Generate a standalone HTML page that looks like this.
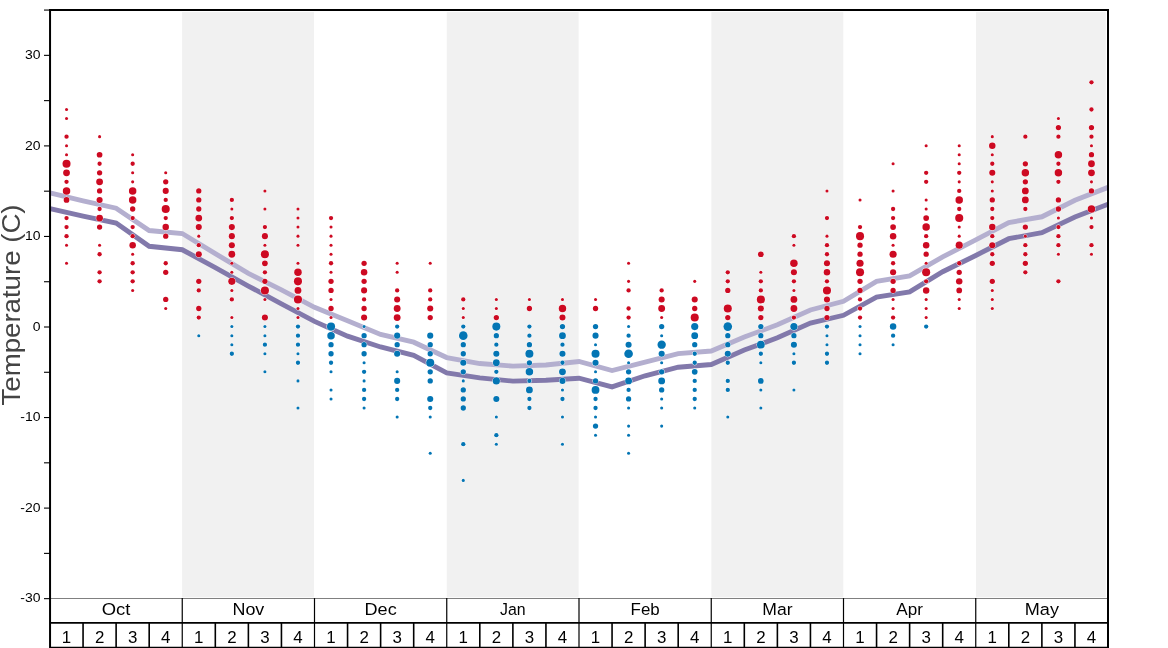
<!DOCTYPE html>
<html><head><meta charset="utf-8"><title>Temperature</title>
<style>
html,body{margin:0;padding:0;background:#fff;}
body{width:1168px;height:648px;overflow:hidden;font-family:"Liberation Sans",sans-serif;}
svg{display:block;}
text{font-family:"Liberation Sans",sans-serif;}
</style></head><body>
<svg width="1168" height="648" viewBox="0 0 1168 648">
<rect x="0" y="0" width="1168" height="648" fill="#ffffff"/>

<rect x="182.10" y="12.1" width="131.90" height="585.20" fill="#f1f1f1"/>
<rect x="446.74" y="12.1" width="131.90" height="585.20" fill="#f1f1f1"/>
<rect x="711.38" y="12.1" width="131.90" height="585.20" fill="#f1f1f1"/>
<rect x="976.00" y="12.1" width="129.80" height="585.20" fill="#f1f1f1"/>
<g fill="none" stroke-width="4.9" stroke-linejoin="miter" stroke-linecap="butt">
<path d="M50.00,192.97 L83.06,200.84 L116.12,208.18 L149.19,230.55 L182.25,233.53 L215.31,253.64 L248.38,273.38 L281.44,289.86 L314.50,307.33 L347.56,320.73 L380.62,334.41 L413.69,342.19 L446.75,357.59 L479.81,363.56 L512.88,366.10 L545.94,365.01 L579.00,361.48 L612.06,370.54 L645.12,362.11 L678.19,353.60 L711.25,350.98 L744.31,337.03 L777.38,324.81 L810.44,309.96 L843.50,301.26 L876.56,281.34 L909.62,275.82 L942.69,256.90 L975.75,239.87 L1008.81,222.49 L1041.88,216.78 L1074.94,200.30 L1108.00,187.35" stroke="#b4afcf"/>
<path d="M50.00,208.72 L83.06,216.06 L116.12,223.03 L149.19,246.30 L182.25,249.74 L215.31,267.58 L248.38,286.05 L281.44,303.80 L314.50,321.37 L347.56,336.13 L380.62,346.99 L413.69,355.32 L446.75,372.89 L479.81,377.87 L512.88,381.13 L545.94,380.22 L579.00,378.23 L612.06,386.93 L645.12,375.79 L678.19,367.19 L711.25,364.47 L744.31,350.07 L777.38,337.85 L810.44,323.00 L843.50,315.30 L876.56,297.10 L909.62,291.85 L942.69,271.75 L975.75,255.45 L1008.81,238.69 L1041.88,232.63 L1074.94,216.96 L1108.00,204.20" stroke="#8279ab"/>
</g>
<g stroke="#ffffff" stroke-width="1.0" paint-order="stroke">
<circle cx="66.53" cy="109.50" r="1.52" fill="#cd0a22"/>
<circle cx="66.53" cy="118.54" r="1.52" fill="#cd0a22"/>
<circle cx="66.53" cy="136.63" r="2.16" fill="#cd0a22"/>
<circle cx="66.53" cy="145.68" r="1.52" fill="#cd0a22"/>
<circle cx="66.53" cy="154.73" r="1.52" fill="#cd0a22"/>
<circle cx="66.53" cy="163.77" r="4.03" fill="#cd0a22"/>
<circle cx="66.53" cy="172.82" r="3.41" fill="#cd0a22"/>
<circle cx="66.53" cy="181.86" r="2.16" fill="#cd0a22"/>
<circle cx="66.53" cy="190.91" r="3.74" fill="#cd0a22"/>
<circle cx="66.53" cy="199.96" r="2.85" fill="#cd0a22"/>
<circle cx="66.53" cy="218.05" r="2.16" fill="#cd0a22"/>
<circle cx="66.53" cy="227.09" r="2.16" fill="#cd0a22"/>
<circle cx="66.53" cy="236.14" r="2.16" fill="#cd0a22"/>
<circle cx="66.53" cy="245.19" r="1.52" fill="#cd0a22"/>
<circle cx="66.53" cy="263.28" r="1.52" fill="#cd0a22"/>
<circle cx="99.59" cy="136.63" r="1.52" fill="#cd0a22"/>
<circle cx="99.59" cy="154.73" r="2.85" fill="#cd0a22"/>
<circle cx="99.59" cy="163.77" r="2.16" fill="#cd0a22"/>
<circle cx="99.59" cy="172.82" r="2.64" fill="#cd0a22"/>
<circle cx="99.59" cy="181.86" r="3.41" fill="#cd0a22"/>
<circle cx="99.59" cy="190.91" r="2.64" fill="#cd0a22"/>
<circle cx="99.59" cy="199.96" r="3.05" fill="#cd0a22"/>
<circle cx="99.59" cy="209.00" r="2.16" fill="#cd0a22"/>
<circle cx="99.59" cy="218.05" r="3.41" fill="#cd0a22"/>
<circle cx="99.59" cy="227.09" r="2.64" fill="#cd0a22"/>
<circle cx="99.59" cy="245.19" r="1.52" fill="#cd0a22"/>
<circle cx="99.59" cy="254.23" r="2.16" fill="#cd0a22"/>
<circle cx="99.59" cy="272.32" r="2.16" fill="#cd0a22"/>
<circle cx="99.59" cy="281.37" r="2.16" fill="#cd0a22"/>
<circle cx="132.66" cy="154.73" r="1.52" fill="#cd0a22"/>
<circle cx="132.66" cy="163.77" r="2.16" fill="#cd0a22"/>
<circle cx="132.66" cy="172.82" r="1.52" fill="#cd0a22"/>
<circle cx="132.66" cy="181.86" r="1.52" fill="#cd0a22"/>
<circle cx="132.66" cy="190.91" r="3.74" fill="#cd0a22"/>
<circle cx="132.66" cy="199.96" r="3.74" fill="#cd0a22"/>
<circle cx="132.66" cy="209.00" r="2.64" fill="#cd0a22"/>
<circle cx="132.66" cy="218.05" r="2.16" fill="#cd0a22"/>
<circle cx="132.66" cy="227.09" r="2.16" fill="#cd0a22"/>
<circle cx="132.66" cy="236.14" r="2.16" fill="#cd0a22"/>
<circle cx="132.66" cy="245.19" r="3.24" fill="#cd0a22"/>
<circle cx="132.66" cy="254.23" r="1.52" fill="#cd0a22"/>
<circle cx="132.66" cy="263.28" r="2.16" fill="#cd0a22"/>
<circle cx="132.66" cy="272.32" r="2.16" fill="#cd0a22"/>
<circle cx="132.66" cy="281.37" r="2.16" fill="#cd0a22"/>
<circle cx="132.66" cy="290.42" r="1.52" fill="#cd0a22"/>
<circle cx="165.72" cy="172.82" r="1.52" fill="#cd0a22"/>
<circle cx="165.72" cy="181.86" r="2.64" fill="#cd0a22"/>
<circle cx="165.72" cy="190.91" r="3.05" fill="#cd0a22"/>
<circle cx="165.72" cy="199.96" r="2.16" fill="#cd0a22"/>
<circle cx="165.72" cy="209.00" r="4.03" fill="#cd0a22"/>
<circle cx="165.72" cy="218.05" r="2.16" fill="#cd0a22"/>
<circle cx="165.72" cy="227.09" r="3.24" fill="#cd0a22"/>
<circle cx="165.72" cy="236.14" r="2.64" fill="#cd0a22"/>
<circle cx="165.72" cy="263.28" r="2.16" fill="#cd0a22"/>
<circle cx="165.72" cy="272.32" r="2.64" fill="#cd0a22"/>
<circle cx="165.72" cy="299.46" r="2.64" fill="#cd0a22"/>
<circle cx="165.72" cy="308.51" r="1.52" fill="#cd0a22"/>
<circle cx="198.78" cy="190.91" r="2.64" fill="#cd0a22"/>
<circle cx="198.78" cy="199.96" r="2.64" fill="#cd0a22"/>
<circle cx="198.78" cy="209.00" r="2.64" fill="#cd0a22"/>
<circle cx="198.78" cy="218.05" r="3.41" fill="#cd0a22"/>
<circle cx="198.78" cy="227.09" r="3.05" fill="#cd0a22"/>
<circle cx="198.78" cy="236.14" r="1.52" fill="#cd0a22"/>
<circle cx="198.78" cy="245.19" r="2.16" fill="#cd0a22"/>
<circle cx="198.78" cy="254.23" r="3.05" fill="#cd0a22"/>
<circle cx="198.78" cy="281.37" r="2.64" fill="#cd0a22"/>
<circle cx="198.78" cy="290.42" r="2.16" fill="#cd0a22"/>
<circle cx="198.78" cy="308.51" r="2.64" fill="#cd0a22"/>
<circle cx="198.78" cy="317.55" r="2.16" fill="#cd0a22"/>
<circle cx="198.78" cy="335.65" r="1.52" fill="#0375b4"/>
<circle cx="231.84" cy="199.96" r="2.16" fill="#cd0a22"/>
<circle cx="231.84" cy="209.00" r="1.52" fill="#cd0a22"/>
<circle cx="231.84" cy="218.05" r="2.16" fill="#cd0a22"/>
<circle cx="231.84" cy="227.09" r="3.05" fill="#cd0a22"/>
<circle cx="231.84" cy="236.14" r="3.05" fill="#cd0a22"/>
<circle cx="231.84" cy="245.19" r="3.05" fill="#cd0a22"/>
<circle cx="231.84" cy="254.23" r="3.41" fill="#cd0a22"/>
<circle cx="231.84" cy="263.28" r="1.52" fill="#cd0a22"/>
<circle cx="231.84" cy="272.32" r="1.52" fill="#cd0a22"/>
<circle cx="231.84" cy="281.37" r="3.58" fill="#cd0a22"/>
<circle cx="231.84" cy="290.42" r="1.52" fill="#cd0a22"/>
<circle cx="231.84" cy="299.46" r="2.16" fill="#cd0a22"/>
<circle cx="231.84" cy="317.55" r="1.52" fill="#cd0a22"/>
<circle cx="231.84" cy="326.60" r="1.52" fill="#0375b4"/>
<circle cx="231.84" cy="335.65" r="1.52" fill="#0375b4"/>
<circle cx="231.84" cy="344.69" r="1.52" fill="#0375b4"/>
<circle cx="231.84" cy="353.74" r="2.16" fill="#0375b4"/>
<circle cx="264.91" cy="190.91" r="1.52" fill="#cd0a22"/>
<circle cx="264.91" cy="209.00" r="1.52" fill="#cd0a22"/>
<circle cx="264.91" cy="227.09" r="2.16" fill="#cd0a22"/>
<circle cx="264.91" cy="236.14" r="3.05" fill="#cd0a22"/>
<circle cx="264.91" cy="245.19" r="1.52" fill="#cd0a22"/>
<circle cx="264.91" cy="254.23" r="4.03" fill="#cd0a22"/>
<circle cx="264.91" cy="263.28" r="2.85" fill="#cd0a22"/>
<circle cx="264.91" cy="272.32" r="2.16" fill="#cd0a22"/>
<circle cx="264.91" cy="281.37" r="2.64" fill="#cd0a22"/>
<circle cx="264.91" cy="290.42" r="4.03" fill="#cd0a22"/>
<circle cx="264.91" cy="299.46" r="1.52" fill="#cd0a22"/>
<circle cx="264.91" cy="317.55" r="3.05" fill="#cd0a22"/>
<circle cx="264.91" cy="326.60" r="1.52" fill="#0375b4"/>
<circle cx="264.91" cy="335.65" r="1.52" fill="#0375b4"/>
<circle cx="264.91" cy="344.69" r="2.16" fill="#0375b4"/>
<circle cx="264.91" cy="353.74" r="1.52" fill="#0375b4"/>
<circle cx="264.91" cy="371.83" r="1.52" fill="#0375b4"/>
<circle cx="297.97" cy="209.00" r="1.52" fill="#cd0a22"/>
<circle cx="297.97" cy="218.05" r="1.52" fill="#cd0a22"/>
<circle cx="297.97" cy="227.09" r="1.52" fill="#cd0a22"/>
<circle cx="297.97" cy="236.14" r="1.52" fill="#cd0a22"/>
<circle cx="297.97" cy="245.19" r="1.52" fill="#cd0a22"/>
<circle cx="297.97" cy="263.28" r="1.52" fill="#cd0a22"/>
<circle cx="297.97" cy="272.32" r="3.74" fill="#cd0a22"/>
<circle cx="297.97" cy="281.37" r="4.03" fill="#cd0a22"/>
<circle cx="297.97" cy="290.42" r="3.41" fill="#cd0a22"/>
<circle cx="297.97" cy="299.46" r="4.03" fill="#cd0a22"/>
<circle cx="297.97" cy="308.51" r="1.52" fill="#cd0a22"/>
<circle cx="297.97" cy="317.55" r="1.52" fill="#cd0a22"/>
<circle cx="297.97" cy="326.60" r="2.16" fill="#0375b4"/>
<circle cx="297.97" cy="335.65" r="2.16" fill="#0375b4"/>
<circle cx="297.97" cy="344.69" r="2.16" fill="#0375b4"/>
<circle cx="297.97" cy="353.74" r="1.52" fill="#0375b4"/>
<circle cx="297.97" cy="362.78" r="2.16" fill="#0375b4"/>
<circle cx="297.97" cy="380.88" r="1.52" fill="#0375b4"/>
<circle cx="297.97" cy="408.01" r="1.52" fill="#0375b4"/>
<circle cx="331.03" cy="218.05" r="2.16" fill="#cd0a22"/>
<circle cx="331.03" cy="227.09" r="1.52" fill="#cd0a22"/>
<circle cx="331.03" cy="236.14" r="1.52" fill="#cd0a22"/>
<circle cx="331.03" cy="245.19" r="1.52" fill="#cd0a22"/>
<circle cx="331.03" cy="254.23" r="1.52" fill="#cd0a22"/>
<circle cx="331.03" cy="263.28" r="2.16" fill="#cd0a22"/>
<circle cx="331.03" cy="272.32" r="1.52" fill="#cd0a22"/>
<circle cx="331.03" cy="281.37" r="2.64" fill="#cd0a22"/>
<circle cx="331.03" cy="290.42" r="2.64" fill="#cd0a22"/>
<circle cx="331.03" cy="299.46" r="1.52" fill="#cd0a22"/>
<circle cx="331.03" cy="308.51" r="2.64" fill="#cd0a22"/>
<circle cx="331.03" cy="317.55" r="1.52" fill="#cd0a22"/>
<circle cx="331.03" cy="326.60" r="4.03" fill="#0375b4"/>
<circle cx="331.03" cy="335.65" r="3.74" fill="#0375b4"/>
<circle cx="331.03" cy="344.69" r="2.64" fill="#0375b4"/>
<circle cx="331.03" cy="353.74" r="2.64" fill="#0375b4"/>
<circle cx="331.03" cy="362.78" r="2.16" fill="#0375b4"/>
<circle cx="331.03" cy="371.83" r="1.52" fill="#0375b4"/>
<circle cx="331.03" cy="389.92" r="1.52" fill="#0375b4"/>
<circle cx="331.03" cy="398.97" r="1.52" fill="#0375b4"/>
<circle cx="364.09" cy="263.28" r="2.64" fill="#cd0a22"/>
<circle cx="364.09" cy="272.32" r="3.24" fill="#cd0a22"/>
<circle cx="364.09" cy="281.37" r="2.64" fill="#cd0a22"/>
<circle cx="364.09" cy="290.42" r="3.05" fill="#cd0a22"/>
<circle cx="364.09" cy="299.46" r="2.16" fill="#cd0a22"/>
<circle cx="364.09" cy="308.51" r="2.64" fill="#cd0a22"/>
<circle cx="364.09" cy="317.55" r="3.05" fill="#cd0a22"/>
<circle cx="364.09" cy="326.60" r="1.52" fill="#0375b4"/>
<circle cx="364.09" cy="335.65" r="2.64" fill="#0375b4"/>
<circle cx="364.09" cy="344.69" r="2.64" fill="#0375b4"/>
<circle cx="364.09" cy="353.74" r="2.64" fill="#0375b4"/>
<circle cx="364.09" cy="362.78" r="1.52" fill="#0375b4"/>
<circle cx="364.09" cy="371.83" r="2.16" fill="#0375b4"/>
<circle cx="364.09" cy="380.88" r="1.52" fill="#0375b4"/>
<circle cx="364.09" cy="389.92" r="2.16" fill="#0375b4"/>
<circle cx="364.09" cy="398.97" r="2.16" fill="#0375b4"/>
<circle cx="364.09" cy="408.01" r="1.52" fill="#0375b4"/>
<circle cx="397.16" cy="263.28" r="1.52" fill="#cd0a22"/>
<circle cx="397.16" cy="272.32" r="1.52" fill="#cd0a22"/>
<circle cx="397.16" cy="290.42" r="2.16" fill="#cd0a22"/>
<circle cx="397.16" cy="299.46" r="3.05" fill="#cd0a22"/>
<circle cx="397.16" cy="308.51" r="3.41" fill="#cd0a22"/>
<circle cx="397.16" cy="317.55" r="3.41" fill="#cd0a22"/>
<circle cx="397.16" cy="326.60" r="2.16" fill="#0375b4"/>
<circle cx="397.16" cy="335.65" r="3.05" fill="#0375b4"/>
<circle cx="397.16" cy="344.69" r="2.64" fill="#0375b4"/>
<circle cx="397.16" cy="353.74" r="3.05" fill="#0375b4"/>
<circle cx="397.16" cy="371.83" r="1.52" fill="#0375b4"/>
<circle cx="397.16" cy="380.88" r="3.05" fill="#0375b4"/>
<circle cx="397.16" cy="389.92" r="2.16" fill="#0375b4"/>
<circle cx="397.16" cy="398.97" r="2.16" fill="#0375b4"/>
<circle cx="397.16" cy="417.06" r="1.52" fill="#0375b4"/>
<circle cx="430.22" cy="263.28" r="1.52" fill="#cd0a22"/>
<circle cx="430.22" cy="290.42" r="2.16" fill="#cd0a22"/>
<circle cx="430.22" cy="299.46" r="2.16" fill="#cd0a22"/>
<circle cx="430.22" cy="308.51" r="3.05" fill="#cd0a22"/>
<circle cx="430.22" cy="317.55" r="2.64" fill="#cd0a22"/>
<circle cx="430.22" cy="335.65" r="3.05" fill="#0375b4"/>
<circle cx="430.22" cy="344.69" r="2.64" fill="#0375b4"/>
<circle cx="430.22" cy="353.74" r="2.64" fill="#0375b4"/>
<circle cx="430.22" cy="362.78" r="4.03" fill="#0375b4"/>
<circle cx="430.22" cy="371.83" r="2.64" fill="#0375b4"/>
<circle cx="430.22" cy="380.88" r="2.64" fill="#0375b4"/>
<circle cx="430.22" cy="398.97" r="3.05" fill="#0375b4"/>
<circle cx="430.22" cy="408.01" r="2.16" fill="#0375b4"/>
<circle cx="430.22" cy="417.06" r="1.52" fill="#0375b4"/>
<circle cx="430.22" cy="453.24" r="1.52" fill="#0375b4"/>
<circle cx="463.28" cy="299.46" r="2.16" fill="#cd0a22"/>
<circle cx="463.28" cy="308.51" r="1.52" fill="#cd0a22"/>
<circle cx="463.28" cy="317.55" r="1.52" fill="#cd0a22"/>
<circle cx="463.28" cy="326.60" r="2.16" fill="#0375b4"/>
<circle cx="463.28" cy="335.65" r="4.31" fill="#0375b4"/>
<circle cx="463.28" cy="344.69" r="2.64" fill="#0375b4"/>
<circle cx="463.28" cy="353.74" r="2.64" fill="#0375b4"/>
<circle cx="463.28" cy="362.78" r="3.05" fill="#0375b4"/>
<circle cx="463.28" cy="371.83" r="2.64" fill="#0375b4"/>
<circle cx="463.28" cy="380.88" r="1.52" fill="#0375b4"/>
<circle cx="463.28" cy="389.92" r="2.64" fill="#0375b4"/>
<circle cx="463.28" cy="398.97" r="2.64" fill="#0375b4"/>
<circle cx="463.28" cy="408.01" r="2.64" fill="#0375b4"/>
<circle cx="463.28" cy="444.20" r="2.16" fill="#0375b4"/>
<circle cx="463.28" cy="480.38" r="1.52" fill="#0375b4"/>
<circle cx="496.34" cy="299.46" r="1.52" fill="#cd0a22"/>
<circle cx="496.34" cy="308.51" r="1.52" fill="#cd0a22"/>
<circle cx="496.34" cy="317.55" r="2.64" fill="#cd0a22"/>
<circle cx="496.34" cy="326.60" r="4.03" fill="#0375b4"/>
<circle cx="496.34" cy="335.65" r="2.64" fill="#0375b4"/>
<circle cx="496.34" cy="344.69" r="2.16" fill="#0375b4"/>
<circle cx="496.34" cy="353.74" r="3.05" fill="#0375b4"/>
<circle cx="496.34" cy="362.78" r="3.41" fill="#0375b4"/>
<circle cx="496.34" cy="371.83" r="2.16" fill="#0375b4"/>
<circle cx="496.34" cy="380.88" r="3.58" fill="#0375b4"/>
<circle cx="496.34" cy="398.97" r="3.05" fill="#0375b4"/>
<circle cx="496.34" cy="417.06" r="1.52" fill="#0375b4"/>
<circle cx="496.34" cy="435.15" r="2.16" fill="#0375b4"/>
<circle cx="496.34" cy="444.20" r="1.52" fill="#0375b4"/>
<circle cx="529.41" cy="299.46" r="1.52" fill="#cd0a22"/>
<circle cx="529.41" cy="308.51" r="2.64" fill="#cd0a22"/>
<circle cx="529.41" cy="326.60" r="2.16" fill="#0375b4"/>
<circle cx="529.41" cy="335.65" r="2.16" fill="#0375b4"/>
<circle cx="529.41" cy="344.69" r="2.64" fill="#0375b4"/>
<circle cx="529.41" cy="353.74" r="4.03" fill="#0375b4"/>
<circle cx="529.41" cy="362.78" r="2.64" fill="#0375b4"/>
<circle cx="529.41" cy="371.83" r="3.74" fill="#0375b4"/>
<circle cx="529.41" cy="380.88" r="2.16" fill="#0375b4"/>
<circle cx="529.41" cy="389.92" r="3.41" fill="#0375b4"/>
<circle cx="529.41" cy="398.97" r="2.16" fill="#0375b4"/>
<circle cx="529.41" cy="408.01" r="2.16" fill="#0375b4"/>
<circle cx="562.47" cy="299.46" r="1.52" fill="#cd0a22"/>
<circle cx="562.47" cy="308.51" r="3.74" fill="#cd0a22"/>
<circle cx="562.47" cy="317.55" r="3.05" fill="#cd0a22"/>
<circle cx="562.47" cy="326.60" r="2.64" fill="#0375b4"/>
<circle cx="562.47" cy="335.65" r="3.41" fill="#0375b4"/>
<circle cx="562.47" cy="344.69" r="2.16" fill="#0375b4"/>
<circle cx="562.47" cy="353.74" r="3.05" fill="#0375b4"/>
<circle cx="562.47" cy="362.78" r="2.16" fill="#0375b4"/>
<circle cx="562.47" cy="371.83" r="3.41" fill="#0375b4"/>
<circle cx="562.47" cy="380.88" r="3.05" fill="#0375b4"/>
<circle cx="562.47" cy="389.92" r="1.52" fill="#0375b4"/>
<circle cx="562.47" cy="398.97" r="2.16" fill="#0375b4"/>
<circle cx="562.47" cy="417.06" r="1.52" fill="#0375b4"/>
<circle cx="562.47" cy="444.20" r="1.52" fill="#0375b4"/>
<circle cx="595.53" cy="299.46" r="1.52" fill="#cd0a22"/>
<circle cx="595.53" cy="308.51" r="2.64" fill="#cd0a22"/>
<circle cx="595.53" cy="326.60" r="2.64" fill="#0375b4"/>
<circle cx="595.53" cy="335.65" r="3.05" fill="#0375b4"/>
<circle cx="595.53" cy="344.69" r="1.52" fill="#0375b4"/>
<circle cx="595.53" cy="353.74" r="4.03" fill="#0375b4"/>
<circle cx="595.53" cy="362.78" r="3.05" fill="#0375b4"/>
<circle cx="595.53" cy="371.83" r="1.52" fill="#0375b4"/>
<circle cx="595.53" cy="380.88" r="2.64" fill="#0375b4"/>
<circle cx="595.53" cy="389.92" r="3.89" fill="#0375b4"/>
<circle cx="595.53" cy="398.97" r="2.16" fill="#0375b4"/>
<circle cx="595.53" cy="408.01" r="2.16" fill="#0375b4"/>
<circle cx="595.53" cy="417.06" r="1.52" fill="#0375b4"/>
<circle cx="595.53" cy="426.11" r="2.64" fill="#0375b4"/>
<circle cx="595.53" cy="435.15" r="1.52" fill="#0375b4"/>
<circle cx="628.59" cy="263.28" r="1.52" fill="#cd0a22"/>
<circle cx="628.59" cy="281.37" r="1.52" fill="#cd0a22"/>
<circle cx="628.59" cy="290.42" r="2.16" fill="#cd0a22"/>
<circle cx="628.59" cy="308.51" r="2.16" fill="#cd0a22"/>
<circle cx="628.59" cy="317.55" r="2.16" fill="#cd0a22"/>
<circle cx="628.59" cy="326.60" r="1.52" fill="#0375b4"/>
<circle cx="628.59" cy="335.65" r="2.16" fill="#0375b4"/>
<circle cx="628.59" cy="344.69" r="3.05" fill="#0375b4"/>
<circle cx="628.59" cy="353.74" r="4.31" fill="#0375b4"/>
<circle cx="628.59" cy="362.78" r="1.52" fill="#0375b4"/>
<circle cx="628.59" cy="371.83" r="2.64" fill="#0375b4"/>
<circle cx="628.59" cy="380.88" r="3.41" fill="#0375b4"/>
<circle cx="628.59" cy="389.92" r="2.16" fill="#0375b4"/>
<circle cx="628.59" cy="398.97" r="2.64" fill="#0375b4"/>
<circle cx="628.59" cy="408.01" r="1.52" fill="#0375b4"/>
<circle cx="628.59" cy="426.11" r="1.52" fill="#0375b4"/>
<circle cx="628.59" cy="435.15" r="1.52" fill="#0375b4"/>
<circle cx="628.59" cy="453.24" r="1.52" fill="#0375b4"/>
<circle cx="661.66" cy="290.42" r="2.16" fill="#cd0a22"/>
<circle cx="661.66" cy="299.46" r="3.05" fill="#cd0a22"/>
<circle cx="661.66" cy="308.51" r="3.41" fill="#cd0a22"/>
<circle cx="661.66" cy="317.55" r="1.52" fill="#cd0a22"/>
<circle cx="661.66" cy="326.60" r="2.64" fill="#0375b4"/>
<circle cx="661.66" cy="335.65" r="1.52" fill="#0375b4"/>
<circle cx="661.66" cy="344.69" r="4.18" fill="#0375b4"/>
<circle cx="661.66" cy="353.74" r="3.05" fill="#0375b4"/>
<circle cx="661.66" cy="362.78" r="1.52" fill="#0375b4"/>
<circle cx="661.66" cy="371.83" r="2.64" fill="#0375b4"/>
<circle cx="661.66" cy="380.88" r="3.41" fill="#0375b4"/>
<circle cx="661.66" cy="389.92" r="2.64" fill="#0375b4"/>
<circle cx="661.66" cy="398.97" r="1.52" fill="#0375b4"/>
<circle cx="661.66" cy="408.01" r="1.52" fill="#0375b4"/>
<circle cx="661.66" cy="426.11" r="1.52" fill="#0375b4"/>
<circle cx="694.72" cy="281.37" r="1.52" fill="#cd0a22"/>
<circle cx="694.72" cy="299.46" r="3.05" fill="#cd0a22"/>
<circle cx="694.72" cy="308.51" r="2.64" fill="#cd0a22"/>
<circle cx="694.72" cy="317.55" r="4.03" fill="#cd0a22"/>
<circle cx="694.72" cy="326.60" r="3.58" fill="#0375b4"/>
<circle cx="694.72" cy="335.65" r="3.41" fill="#0375b4"/>
<circle cx="694.72" cy="344.69" r="2.64" fill="#0375b4"/>
<circle cx="694.72" cy="353.74" r="2.16" fill="#0375b4"/>
<circle cx="694.72" cy="362.78" r="2.16" fill="#0375b4"/>
<circle cx="694.72" cy="371.83" r="2.85" fill="#0375b4"/>
<circle cx="694.72" cy="380.88" r="2.16" fill="#0375b4"/>
<circle cx="694.72" cy="389.92" r="2.16" fill="#0375b4"/>
<circle cx="694.72" cy="398.97" r="2.16" fill="#0375b4"/>
<circle cx="694.72" cy="408.01" r="1.52" fill="#0375b4"/>
<circle cx="727.78" cy="272.32" r="2.16" fill="#cd0a22"/>
<circle cx="727.78" cy="281.37" r="2.16" fill="#cd0a22"/>
<circle cx="727.78" cy="290.42" r="2.64" fill="#cd0a22"/>
<circle cx="727.78" cy="308.51" r="4.03" fill="#cd0a22"/>
<circle cx="727.78" cy="317.55" r="2.64" fill="#cd0a22"/>
<circle cx="727.78" cy="326.60" r="4.31" fill="#0375b4"/>
<circle cx="727.78" cy="335.65" r="2.64" fill="#0375b4"/>
<circle cx="727.78" cy="344.69" r="2.64" fill="#0375b4"/>
<circle cx="727.78" cy="353.74" r="3.05" fill="#0375b4"/>
<circle cx="727.78" cy="362.78" r="2.16" fill="#0375b4"/>
<circle cx="727.78" cy="380.88" r="2.16" fill="#0375b4"/>
<circle cx="727.78" cy="389.92" r="2.16" fill="#0375b4"/>
<circle cx="727.78" cy="417.06" r="1.52" fill="#0375b4"/>
<circle cx="760.84" cy="254.23" r="2.85" fill="#cd0a22"/>
<circle cx="760.84" cy="272.32" r="1.52" fill="#cd0a22"/>
<circle cx="760.84" cy="281.37" r="2.16" fill="#cd0a22"/>
<circle cx="760.84" cy="290.42" r="2.16" fill="#cd0a22"/>
<circle cx="760.84" cy="299.46" r="4.03" fill="#cd0a22"/>
<circle cx="760.84" cy="308.51" r="3.05" fill="#cd0a22"/>
<circle cx="760.84" cy="317.55" r="2.64" fill="#cd0a22"/>
<circle cx="760.84" cy="326.60" r="2.64" fill="#0375b4"/>
<circle cx="760.84" cy="335.65" r="2.64" fill="#0375b4"/>
<circle cx="760.84" cy="344.69" r="3.89" fill="#0375b4"/>
<circle cx="760.84" cy="353.74" r="2.16" fill="#0375b4"/>
<circle cx="760.84" cy="362.78" r="1.52" fill="#0375b4"/>
<circle cx="760.84" cy="380.88" r="2.85" fill="#0375b4"/>
<circle cx="760.84" cy="389.92" r="1.52" fill="#0375b4"/>
<circle cx="760.84" cy="408.01" r="1.52" fill="#0375b4"/>
<circle cx="793.91" cy="236.14" r="2.16" fill="#cd0a22"/>
<circle cx="793.91" cy="245.19" r="1.52" fill="#cd0a22"/>
<circle cx="793.91" cy="263.28" r="3.74" fill="#cd0a22"/>
<circle cx="793.91" cy="272.32" r="3.05" fill="#cd0a22"/>
<circle cx="793.91" cy="281.37" r="2.16" fill="#cd0a22"/>
<circle cx="793.91" cy="290.42" r="1.52" fill="#cd0a22"/>
<circle cx="793.91" cy="299.46" r="3.41" fill="#cd0a22"/>
<circle cx="793.91" cy="308.51" r="3.41" fill="#cd0a22"/>
<circle cx="793.91" cy="317.55" r="2.16" fill="#cd0a22"/>
<circle cx="793.91" cy="326.60" r="3.58" fill="#0375b4"/>
<circle cx="793.91" cy="335.65" r="2.64" fill="#0375b4"/>
<circle cx="793.91" cy="344.69" r="3.05" fill="#0375b4"/>
<circle cx="793.91" cy="353.74" r="1.52" fill="#0375b4"/>
<circle cx="793.91" cy="362.78" r="2.16" fill="#0375b4"/>
<circle cx="793.91" cy="389.92" r="1.52" fill="#0375b4"/>
<circle cx="826.97" cy="190.91" r="1.52" fill="#cd0a22"/>
<circle cx="826.97" cy="218.05" r="2.16" fill="#cd0a22"/>
<circle cx="826.97" cy="236.14" r="1.52" fill="#cd0a22"/>
<circle cx="826.97" cy="245.19" r="2.16" fill="#cd0a22"/>
<circle cx="826.97" cy="254.23" r="2.16" fill="#cd0a22"/>
<circle cx="826.97" cy="263.28" r="3.05" fill="#cd0a22"/>
<circle cx="826.97" cy="272.32" r="3.24" fill="#cd0a22"/>
<circle cx="826.97" cy="281.37" r="2.16" fill="#cd0a22"/>
<circle cx="826.97" cy="290.42" r="4.03" fill="#cd0a22"/>
<circle cx="826.97" cy="299.46" r="3.05" fill="#cd0a22"/>
<circle cx="826.97" cy="308.51" r="2.64" fill="#cd0a22"/>
<circle cx="826.97" cy="317.55" r="2.64" fill="#cd0a22"/>
<circle cx="826.97" cy="326.60" r="2.16" fill="#0375b4"/>
<circle cx="826.97" cy="335.65" r="1.52" fill="#0375b4"/>
<circle cx="826.97" cy="344.69" r="1.52" fill="#0375b4"/>
<circle cx="826.97" cy="353.74" r="2.16" fill="#0375b4"/>
<circle cx="826.97" cy="362.78" r="2.16" fill="#0375b4"/>
<circle cx="860.03" cy="199.96" r="1.52" fill="#cd0a22"/>
<circle cx="860.03" cy="227.09" r="2.16" fill="#cd0a22"/>
<circle cx="860.03" cy="236.14" r="4.03" fill="#cd0a22"/>
<circle cx="860.03" cy="245.19" r="2.64" fill="#cd0a22"/>
<circle cx="860.03" cy="254.23" r="2.64" fill="#cd0a22"/>
<circle cx="860.03" cy="263.28" r="3.58" fill="#cd0a22"/>
<circle cx="860.03" cy="272.32" r="4.03" fill="#cd0a22"/>
<circle cx="860.03" cy="281.37" r="2.64" fill="#cd0a22"/>
<circle cx="860.03" cy="290.42" r="2.64" fill="#cd0a22"/>
<circle cx="860.03" cy="299.46" r="2.16" fill="#cd0a22"/>
<circle cx="860.03" cy="308.51" r="2.16" fill="#cd0a22"/>
<circle cx="860.03" cy="317.55" r="2.16" fill="#cd0a22"/>
<circle cx="860.03" cy="326.60" r="1.52" fill="#0375b4"/>
<circle cx="860.03" cy="335.65" r="1.52" fill="#0375b4"/>
<circle cx="860.03" cy="344.69" r="1.52" fill="#0375b4"/>
<circle cx="860.03" cy="353.74" r="1.52" fill="#0375b4"/>
<circle cx="893.09" cy="163.77" r="1.52" fill="#cd0a22"/>
<circle cx="893.09" cy="190.91" r="1.52" fill="#cd0a22"/>
<circle cx="893.09" cy="209.00" r="2.16" fill="#cd0a22"/>
<circle cx="893.09" cy="218.05" r="2.16" fill="#cd0a22"/>
<circle cx="893.09" cy="227.09" r="2.85" fill="#cd0a22"/>
<circle cx="893.09" cy="236.14" r="3.24" fill="#cd0a22"/>
<circle cx="893.09" cy="245.19" r="1.52" fill="#cd0a22"/>
<circle cx="893.09" cy="254.23" r="3.58" fill="#cd0a22"/>
<circle cx="893.09" cy="263.28" r="2.16" fill="#cd0a22"/>
<circle cx="893.09" cy="272.32" r="3.05" fill="#cd0a22"/>
<circle cx="893.09" cy="281.37" r="2.64" fill="#cd0a22"/>
<circle cx="893.09" cy="290.42" r="2.64" fill="#cd0a22"/>
<circle cx="893.09" cy="299.46" r="1.52" fill="#cd0a22"/>
<circle cx="893.09" cy="308.51" r="1.52" fill="#cd0a22"/>
<circle cx="893.09" cy="317.55" r="2.16" fill="#cd0a22"/>
<circle cx="893.09" cy="326.60" r="3.24" fill="#0375b4"/>
<circle cx="893.09" cy="335.65" r="2.16" fill="#0375b4"/>
<circle cx="893.09" cy="344.69" r="1.52" fill="#0375b4"/>
<circle cx="926.16" cy="145.68" r="1.52" fill="#cd0a22"/>
<circle cx="926.16" cy="172.82" r="2.16" fill="#cd0a22"/>
<circle cx="926.16" cy="181.86" r="2.16" fill="#cd0a22"/>
<circle cx="926.16" cy="199.96" r="1.52" fill="#cd0a22"/>
<circle cx="926.16" cy="209.00" r="1.52" fill="#cd0a22"/>
<circle cx="926.16" cy="218.05" r="2.85" fill="#cd0a22"/>
<circle cx="926.16" cy="227.09" r="3.74" fill="#cd0a22"/>
<circle cx="926.16" cy="236.14" r="2.16" fill="#cd0a22"/>
<circle cx="926.16" cy="245.19" r="3.24" fill="#cd0a22"/>
<circle cx="926.16" cy="254.23" r="2.64" fill="#cd0a22"/>
<circle cx="926.16" cy="263.28" r="1.52" fill="#cd0a22"/>
<circle cx="926.16" cy="272.32" r="4.03" fill="#cd0a22"/>
<circle cx="926.16" cy="281.37" r="2.16" fill="#cd0a22"/>
<circle cx="926.16" cy="290.42" r="3.24" fill="#cd0a22"/>
<circle cx="926.16" cy="299.46" r="1.52" fill="#cd0a22"/>
<circle cx="926.16" cy="308.51" r="1.52" fill="#cd0a22"/>
<circle cx="926.16" cy="317.55" r="1.52" fill="#cd0a22"/>
<circle cx="926.16" cy="326.60" r="2.16" fill="#0375b4"/>
<circle cx="959.22" cy="145.68" r="1.52" fill="#cd0a22"/>
<circle cx="959.22" cy="154.73" r="1.52" fill="#cd0a22"/>
<circle cx="959.22" cy="163.77" r="1.52" fill="#cd0a22"/>
<circle cx="959.22" cy="172.82" r="2.16" fill="#cd0a22"/>
<circle cx="959.22" cy="181.86" r="1.52" fill="#cd0a22"/>
<circle cx="959.22" cy="190.91" r="2.16" fill="#cd0a22"/>
<circle cx="959.22" cy="199.96" r="3.74" fill="#cd0a22"/>
<circle cx="959.22" cy="209.00" r="2.16" fill="#cd0a22"/>
<circle cx="959.22" cy="218.05" r="4.03" fill="#cd0a22"/>
<circle cx="959.22" cy="227.09" r="1.52" fill="#cd0a22"/>
<circle cx="959.22" cy="236.14" r="1.52" fill="#cd0a22"/>
<circle cx="959.22" cy="245.19" r="3.58" fill="#cd0a22"/>
<circle cx="959.22" cy="263.28" r="2.16" fill="#cd0a22"/>
<circle cx="959.22" cy="272.32" r="2.64" fill="#cd0a22"/>
<circle cx="959.22" cy="281.37" r="3.24" fill="#cd0a22"/>
<circle cx="959.22" cy="290.42" r="2.85" fill="#cd0a22"/>
<circle cx="959.22" cy="299.46" r="1.52" fill="#cd0a22"/>
<circle cx="959.22" cy="308.51" r="1.52" fill="#cd0a22"/>
<circle cx="992.28" cy="136.63" r="1.52" fill="#cd0a22"/>
<circle cx="992.28" cy="145.68" r="3.24" fill="#cd0a22"/>
<circle cx="992.28" cy="154.73" r="1.52" fill="#cd0a22"/>
<circle cx="992.28" cy="163.77" r="2.16" fill="#cd0a22"/>
<circle cx="992.28" cy="172.82" r="3.05" fill="#cd0a22"/>
<circle cx="992.28" cy="181.86" r="1.52" fill="#cd0a22"/>
<circle cx="992.28" cy="190.91" r="1.52" fill="#cd0a22"/>
<circle cx="992.28" cy="199.96" r="2.64" fill="#cd0a22"/>
<circle cx="992.28" cy="209.00" r="2.16" fill="#cd0a22"/>
<circle cx="992.28" cy="218.05" r="2.16" fill="#cd0a22"/>
<circle cx="992.28" cy="227.09" r="3.24" fill="#cd0a22"/>
<circle cx="992.28" cy="236.14" r="2.16" fill="#cd0a22"/>
<circle cx="992.28" cy="245.19" r="3.05" fill="#cd0a22"/>
<circle cx="992.28" cy="254.23" r="2.16" fill="#cd0a22"/>
<circle cx="992.28" cy="263.28" r="2.64" fill="#cd0a22"/>
<circle cx="992.28" cy="281.37" r="2.64" fill="#cd0a22"/>
<circle cx="992.28" cy="290.42" r="1.52" fill="#cd0a22"/>
<circle cx="992.28" cy="299.46" r="1.52" fill="#cd0a22"/>
<circle cx="992.28" cy="308.51" r="1.52" fill="#cd0a22"/>
<circle cx="1025.34" cy="136.63" r="2.16" fill="#cd0a22"/>
<circle cx="1025.34" cy="163.77" r="2.64" fill="#cd0a22"/>
<circle cx="1025.34" cy="172.82" r="3.74" fill="#cd0a22"/>
<circle cx="1025.34" cy="181.86" r="2.64" fill="#cd0a22"/>
<circle cx="1025.34" cy="190.91" r="3.41" fill="#cd0a22"/>
<circle cx="1025.34" cy="199.96" r="3.41" fill="#cd0a22"/>
<circle cx="1025.34" cy="209.00" r="2.16" fill="#cd0a22"/>
<circle cx="1025.34" cy="227.09" r="2.64" fill="#cd0a22"/>
<circle cx="1025.34" cy="236.14" r="1.52" fill="#cd0a22"/>
<circle cx="1025.34" cy="245.19" r="2.16" fill="#cd0a22"/>
<circle cx="1025.34" cy="254.23" r="2.16" fill="#cd0a22"/>
<circle cx="1025.34" cy="263.28" r="2.64" fill="#cd0a22"/>
<circle cx="1025.34" cy="272.32" r="2.16" fill="#cd0a22"/>
<circle cx="1058.41" cy="118.54" r="1.52" fill="#cd0a22"/>
<circle cx="1058.41" cy="127.59" r="2.64" fill="#cd0a22"/>
<circle cx="1058.41" cy="136.63" r="2.16" fill="#cd0a22"/>
<circle cx="1058.41" cy="154.73" r="3.74" fill="#cd0a22"/>
<circle cx="1058.41" cy="163.77" r="2.16" fill="#cd0a22"/>
<circle cx="1058.41" cy="172.82" r="3.74" fill="#cd0a22"/>
<circle cx="1058.41" cy="181.86" r="2.16" fill="#cd0a22"/>
<circle cx="1058.41" cy="199.96" r="2.64" fill="#cd0a22"/>
<circle cx="1058.41" cy="209.00" r="2.64" fill="#cd0a22"/>
<circle cx="1058.41" cy="218.05" r="1.52" fill="#cd0a22"/>
<circle cx="1058.41" cy="227.09" r="2.16" fill="#cd0a22"/>
<circle cx="1058.41" cy="236.14" r="2.16" fill="#cd0a22"/>
<circle cx="1058.41" cy="245.19" r="2.16" fill="#cd0a22"/>
<circle cx="1058.41" cy="254.23" r="1.52" fill="#cd0a22"/>
<circle cx="1058.41" cy="281.37" r="2.16" fill="#cd0a22"/>
<circle cx="1091.47" cy="82.36" r="2.16" fill="#cd0a22"/>
<circle cx="1091.47" cy="109.50" r="2.16" fill="#cd0a22"/>
<circle cx="1091.47" cy="127.59" r="2.64" fill="#cd0a22"/>
<circle cx="1091.47" cy="136.63" r="2.16" fill="#cd0a22"/>
<circle cx="1091.47" cy="145.68" r="1.52" fill="#cd0a22"/>
<circle cx="1091.47" cy="154.73" r="2.64" fill="#cd0a22"/>
<circle cx="1091.47" cy="163.77" r="3.41" fill="#cd0a22"/>
<circle cx="1091.47" cy="172.82" r="3.41" fill="#cd0a22"/>
<circle cx="1091.47" cy="181.86" r="1.52" fill="#cd0a22"/>
<circle cx="1091.47" cy="190.91" r="2.64" fill="#cd0a22"/>
<circle cx="1091.47" cy="209.00" r="3.74" fill="#cd0a22"/>
<circle cx="1091.47" cy="218.05" r="1.52" fill="#cd0a22"/>
<circle cx="1091.47" cy="227.09" r="2.16" fill="#cd0a22"/>
<circle cx="1091.47" cy="245.19" r="2.16" fill="#cd0a22"/>
<circle cx="1091.47" cy="254.23" r="1.52" fill="#cd0a22"/>
</g>
<rect x="50.00" y="598.5" width="1058.00" height="49.50" fill="#fff"/>
<line x1="50.0" y1="598.5" x2="1108.0" y2="598.5" stroke="#808080" stroke-width="1.1"/>
<line x1="50.0" y1="622.9" x2="1108.0" y2="622.9" stroke="#000" stroke-width="1.7"/>
<line x1="50.0" y1="647.8" x2="1108.0" y2="647.8" stroke="#000" stroke-width="2"/>
<line x1="182.25" y1="598.1" x2="182.25" y2="648" stroke="#000" stroke-width="1.2"/>
<line x1="314.50" y1="598.1" x2="314.50" y2="648" stroke="#000" stroke-width="1.2"/>
<line x1="446.75" y1="598.1" x2="446.75" y2="648" stroke="#000" stroke-width="1.2"/>
<line x1="579.00" y1="598.1" x2="579.00" y2="648" stroke="#000" stroke-width="1.2"/>
<line x1="711.25" y1="598.1" x2="711.25" y2="648" stroke="#000" stroke-width="1.2"/>
<line x1="843.50" y1="598.1" x2="843.50" y2="648" stroke="#000" stroke-width="1.2"/>
<line x1="975.75" y1="598.1" x2="975.75" y2="648" stroke="#000" stroke-width="1.2"/>
<line x1="83.06" y1="622.9" x2="83.06" y2="648" stroke="#000" stroke-width="1.6"/>
<line x1="116.12" y1="622.9" x2="116.12" y2="648" stroke="#000" stroke-width="1.6"/>
<line x1="149.19" y1="622.9" x2="149.19" y2="648" stroke="#000" stroke-width="1.6"/>
<line x1="215.31" y1="622.9" x2="215.31" y2="648" stroke="#000" stroke-width="1.6"/>
<line x1="248.38" y1="622.9" x2="248.38" y2="648" stroke="#000" stroke-width="1.6"/>
<line x1="281.44" y1="622.9" x2="281.44" y2="648" stroke="#000" stroke-width="1.6"/>
<line x1="347.56" y1="622.9" x2="347.56" y2="648" stroke="#000" stroke-width="1.6"/>
<line x1="380.62" y1="622.9" x2="380.62" y2="648" stroke="#000" stroke-width="1.6"/>
<line x1="413.69" y1="622.9" x2="413.69" y2="648" stroke="#000" stroke-width="1.6"/>
<line x1="479.81" y1="622.9" x2="479.81" y2="648" stroke="#000" stroke-width="1.6"/>
<line x1="512.88" y1="622.9" x2="512.88" y2="648" stroke="#000" stroke-width="1.6"/>
<line x1="545.94" y1="622.9" x2="545.94" y2="648" stroke="#000" stroke-width="1.6"/>
<line x1="612.06" y1="622.9" x2="612.06" y2="648" stroke="#000" stroke-width="1.6"/>
<line x1="645.12" y1="622.9" x2="645.12" y2="648" stroke="#000" stroke-width="1.6"/>
<line x1="678.19" y1="622.9" x2="678.19" y2="648" stroke="#000" stroke-width="1.6"/>
<line x1="744.31" y1="622.9" x2="744.31" y2="648" stroke="#000" stroke-width="1.6"/>
<line x1="777.38" y1="622.9" x2="777.38" y2="648" stroke="#000" stroke-width="1.6"/>
<line x1="810.44" y1="622.9" x2="810.44" y2="648" stroke="#000" stroke-width="1.6"/>
<line x1="876.56" y1="622.9" x2="876.56" y2="648" stroke="#000" stroke-width="1.6"/>
<line x1="909.62" y1="622.9" x2="909.62" y2="648" stroke="#000" stroke-width="1.6"/>
<line x1="942.69" y1="622.9" x2="942.69" y2="648" stroke="#000" stroke-width="1.6"/>
<line x1="1008.81" y1="622.9" x2="1008.81" y2="648" stroke="#000" stroke-width="1.6"/>
<line x1="1041.88" y1="622.9" x2="1041.88" y2="648" stroke="#000" stroke-width="1.6"/>
<line x1="1074.94" y1="622.9" x2="1074.94" y2="648" stroke="#000" stroke-width="1.6"/>
<line x1="50.05" y1="9.0" x2="50.05" y2="648" stroke="#000" stroke-width="2"/>
<line x1="1108.0" y1="9.0" x2="1108.0" y2="648" stroke="#000" stroke-width="2"/>
<line x1="49.0" y1="10.0" x2="1109.0" y2="10.0" stroke="#000" stroke-width="2.1"/>
<g style="opacity:0.999">
<line x1="44" y1="598.65" x2="50.0" y2="598.65" stroke="#000" stroke-width="1.1"/>
<line x1="44" y1="553.38" x2="50.0" y2="553.38" stroke="#000" stroke-width="1.1"/>
<line x1="44" y1="508.10" x2="50.0" y2="508.10" stroke="#000" stroke-width="1.1"/>
<line x1="44" y1="462.82" x2="50.0" y2="462.82" stroke="#000" stroke-width="1.1"/>
<line x1="44" y1="417.55" x2="50.0" y2="417.55" stroke="#000" stroke-width="1.1"/>
<line x1="44" y1="372.27" x2="50.0" y2="372.27" stroke="#000" stroke-width="1.1"/>
<line x1="44" y1="327.00" x2="50.0" y2="327.00" stroke="#000" stroke-width="1.1"/>
<line x1="44" y1="281.73" x2="50.0" y2="281.73" stroke="#000" stroke-width="1.1"/>
<line x1="44" y1="236.45" x2="50.0" y2="236.45" stroke="#000" stroke-width="1.1"/>
<line x1="44" y1="191.18" x2="50.0" y2="191.18" stroke="#000" stroke-width="1.1"/>
<line x1="44" y1="145.90" x2="50.0" y2="145.90" stroke="#000" stroke-width="1.1"/>
<line x1="44" y1="100.63" x2="50.0" y2="100.63" stroke="#000" stroke-width="1.1"/>
<line x1="44" y1="55.35" x2="50.0" y2="55.35" stroke="#000" stroke-width="1.1"/>
<line x1="44" y1="10.07" x2="50.0" y2="10.07" stroke="#000" stroke-width="1.1"/>
<text transform="translate(40.5,602.25) scale(1.10,1)" font-size="12.7" text-anchor="end" fill="#000">-30</text>
<text transform="translate(40.5,511.70) scale(1.10,1)" font-size="12.7" text-anchor="end" fill="#000">-20</text>
<text transform="translate(40.5,421.15) scale(1.10,1)" font-size="12.7" text-anchor="end" fill="#000">-10</text>
<text transform="translate(40.5,330.60) scale(1.10,1)" font-size="12.7" text-anchor="end" fill="#000">0</text>
<text transform="translate(40.5,240.05) scale(1.10,1)" font-size="12.7" text-anchor="end" fill="#000">10</text>
<text transform="translate(40.5,149.50) scale(1.10,1)" font-size="12.7" text-anchor="end" fill="#000">20</text>
<text transform="translate(40.5,58.95) scale(1.10,1)" font-size="12.7" text-anchor="end" fill="#000">30</text>
<text transform="translate(116.12,614.7) scale(1.09,1)" font-size="16.9" text-anchor="middle" fill="#000">Oct</text>
<text transform="translate(248.38,614.7) scale(1.06,1)" font-size="16.9" text-anchor="middle" fill="#000">Nov</text>
<text transform="translate(380.62,614.7) scale(1.07,1)" font-size="16.9" text-anchor="middle" fill="#000">Dec</text>
<text transform="translate(512.88,614.7) scale(0.94,1)" font-size="16.9" text-anchor="middle" fill="#000">Jan</text>
<text transform="translate(645.12,614.7) scale(1.0,1)" font-size="16.9" text-anchor="middle" fill="#000">Feb</text>
<text transform="translate(777.38,614.7) scale(1.04,1)" font-size="16.9" text-anchor="middle" fill="#000">Mar</text>
<text transform="translate(909.62,614.7) scale(1.01,1)" font-size="16.9" text-anchor="middle" fill="#000">Apr</text>
<text transform="translate(1041.88,614.7) scale(1.07,1)" font-size="16.9" text-anchor="middle" fill="#000">May</text>
<text x="66.53" y="642.9" font-size="16.9" text-anchor="middle" fill="#000">1</text>
<text x="99.59" y="642.9" font-size="16.9" text-anchor="middle" fill="#000">2</text>
<text x="132.66" y="642.9" font-size="16.9" text-anchor="middle" fill="#000">3</text>
<text x="165.72" y="642.9" font-size="16.9" text-anchor="middle" fill="#000">4</text>
<text x="198.78" y="642.9" font-size="16.9" text-anchor="middle" fill="#000">1</text>
<text x="231.84" y="642.9" font-size="16.9" text-anchor="middle" fill="#000">2</text>
<text x="264.91" y="642.9" font-size="16.9" text-anchor="middle" fill="#000">3</text>
<text x="297.97" y="642.9" font-size="16.9" text-anchor="middle" fill="#000">4</text>
<text x="331.03" y="642.9" font-size="16.9" text-anchor="middle" fill="#000">1</text>
<text x="364.09" y="642.9" font-size="16.9" text-anchor="middle" fill="#000">2</text>
<text x="397.16" y="642.9" font-size="16.9" text-anchor="middle" fill="#000">3</text>
<text x="430.22" y="642.9" font-size="16.9" text-anchor="middle" fill="#000">4</text>
<text x="463.28" y="642.9" font-size="16.9" text-anchor="middle" fill="#000">1</text>
<text x="496.34" y="642.9" font-size="16.9" text-anchor="middle" fill="#000">2</text>
<text x="529.41" y="642.9" font-size="16.9" text-anchor="middle" fill="#000">3</text>
<text x="562.47" y="642.9" font-size="16.9" text-anchor="middle" fill="#000">4</text>
<text x="595.53" y="642.9" font-size="16.9" text-anchor="middle" fill="#000">1</text>
<text x="628.59" y="642.9" font-size="16.9" text-anchor="middle" fill="#000">2</text>
<text x="661.66" y="642.9" font-size="16.9" text-anchor="middle" fill="#000">3</text>
<text x="694.72" y="642.9" font-size="16.9" text-anchor="middle" fill="#000">4</text>
<text x="727.78" y="642.9" font-size="16.9" text-anchor="middle" fill="#000">1</text>
<text x="760.84" y="642.9" font-size="16.9" text-anchor="middle" fill="#000">2</text>
<text x="793.91" y="642.9" font-size="16.9" text-anchor="middle" fill="#000">3</text>
<text x="826.97" y="642.9" font-size="16.9" text-anchor="middle" fill="#000">4</text>
<text x="860.03" y="642.9" font-size="16.9" text-anchor="middle" fill="#000">1</text>
<text x="893.09" y="642.9" font-size="16.9" text-anchor="middle" fill="#000">2</text>
<text x="926.16" y="642.9" font-size="16.9" text-anchor="middle" fill="#000">3</text>
<text x="959.22" y="642.9" font-size="16.9" text-anchor="middle" fill="#000">4</text>
<text x="992.28" y="642.9" font-size="16.9" text-anchor="middle" fill="#000">1</text>
<text x="1025.34" y="642.9" font-size="16.9" text-anchor="middle" fill="#000">2</text>
<text x="1058.41" y="642.9" font-size="16.9" text-anchor="middle" fill="#000">3</text>
<text x="1091.47" y="642.9" font-size="16.9" text-anchor="middle" fill="#000">4</text>
<text transform="translate(19.9,305.0) rotate(-90)" font-size="24.9" text-anchor="middle" textLength="201" lengthAdjust="spacingAndGlyphs" fill="#444">Temperature (C)</text>
</g>
</svg></body></html>
